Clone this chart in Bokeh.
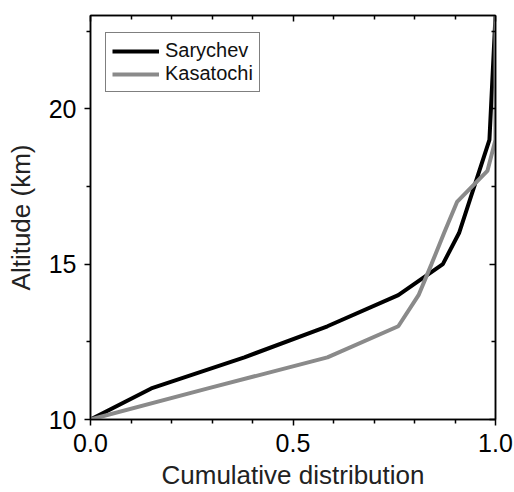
from bokeh.plotting import figure
from bokeh.models import LinearAxis, FixedTicker, Range1d, Legend, LegendItem
from bokeh.embed import file_html
from bokeh.resources import INLINE

# Data
sary_x = [0.0, 0.15, 0.38, 0.585, 0.76, 0.87, 0.91, 0.985, 1.0]
sary_y = [10, 11, 12, 13, 14, 15, 16, 19, 23]
kasa_x = [0.0, 0.29, 0.585, 0.76, 0.81, 0.842, 0.873, 0.905, 0.98, 1.0, 1.0]
kasa_y = [10, 11, 12, 13, 14, 15, 16, 17, 18, 19, 23]

x_major = [0.0, 0.5, 1.0]
x_minor = [0.1, 0.2, 0.3, 0.4, 0.6, 0.7, 0.8, 0.9]
y_major = [10, 15, 20]
y_minor = [12.5, 17.5, 22.5]
x_labels = {0.0: "0.0", 0.5: "0.5", 1.0: "1.0"}
x_title = "Cumulative distribution"
y_title = "Altitude (km)"

FONT = "Liberation Sans"

p = figure(width=514, height=492, output_backend="svg", toolbar_location=None,
           x_range=Range1d(0, 1), y_range=Range1d(10, 23),
           x_axis_label=x_title, y_axis_label=y_title,
           min_border_left=90, min_border_right=19, min_border_top=15, min_border_bottom=73)
p.grid.visible = False
p.outline_line_color = "black"
p.outline_line_width = 1.5
p.background_fill_color = "white"
p.border_fill_color = "white"

for ax in (p.xaxis[0], p.yaxis[0]):
    ax.axis_line_width = 1.5
    ax.major_tick_line_width = 1.5
    ax.minor_tick_line_width = 1.5
    ax.major_tick_out = 6
    ax.major_tick_in = 0
    ax.minor_tick_out = 4
    ax.minor_tick_in = 0
    ax.major_label_text_font = FONT
    ax.major_label_text_font_size = "25px"
    ax.major_label_text_color = "black"
    ax.axis_label_text_font = FONT
    ax.axis_label_text_font_size = "26px"
    ax.axis_label_text_font_style = "normal"
    ax.axis_label_text_color = "#222222"

p.xaxis[0].ticker = FixedTicker(ticks=x_major, minor_ticks=x_minor)
p.xaxis[0].major_label_overrides = x_labels
p.yaxis[0].ticker = FixedTicker(ticks=y_major, minor_ticks=y_minor)
p.xaxis[0].major_label_standoff = 8
p.xaxis[0].axis_label_standoff = 5
p.yaxis[0].major_label_standoff = 8
p.yaxis[0].axis_label_standoff = 10

blank_x = {t: "" for t in x_major}
blank_y = {t: "" for t in y_major}
top = LinearAxis(ticker=FixedTicker(ticks=x_major, minor_ticks=x_minor),
                 major_label_overrides=blank_x,
                 major_label_text_font_size="1px", major_label_standoff=0,
                 major_tick_in=6, major_tick_out=0, minor_tick_in=4, minor_tick_out=0,
                 axis_line_width=1.5, major_tick_line_width=1.5, minor_tick_line_width=1.5)
right = LinearAxis(ticker=FixedTicker(ticks=y_major, minor_ticks=y_minor),
                   major_label_overrides=blank_y,
                   major_label_text_font_size="1px", major_label_standoff=0,
                   major_tick_in=6, major_tick_out=0, minor_tick_in=4, minor_tick_out=0,
                   axis_line_width=1.5, major_tick_line_width=1.5, minor_tick_line_width=1.5)
p.add_layout(top, "above")
p.add_layout(right, "right")

r1 = p.line(sary_x, sary_y, line_color="black", line_width=4)
r2 = p.line(kasa_x, kasa_y, line_color="#8a8a8a", line_width=4)

legend = Legend(items=[LegendItem(label="Sarychev", renderers=[r1]),
                       LegendItem(label="Kasatochi", renderers=[r2])],
                location=(15, 327))
legend.border_line_color = "black"
legend.border_line_width = 1.2
legend.label_text_font = FONT
legend.label_text_font_size = "20px"
legend.label_text_color = "#111111"
legend.glyph_width = 47
legend.glyph_height = 20
legend.label_height = 20
legend.spacing = 0
legend.padding = 6
legend.label_standoff = 6
legend.background_fill_alpha = 1
p.add_layout(legend, "center")

open("out.html", "w").write(file_html(p, INLINE))
